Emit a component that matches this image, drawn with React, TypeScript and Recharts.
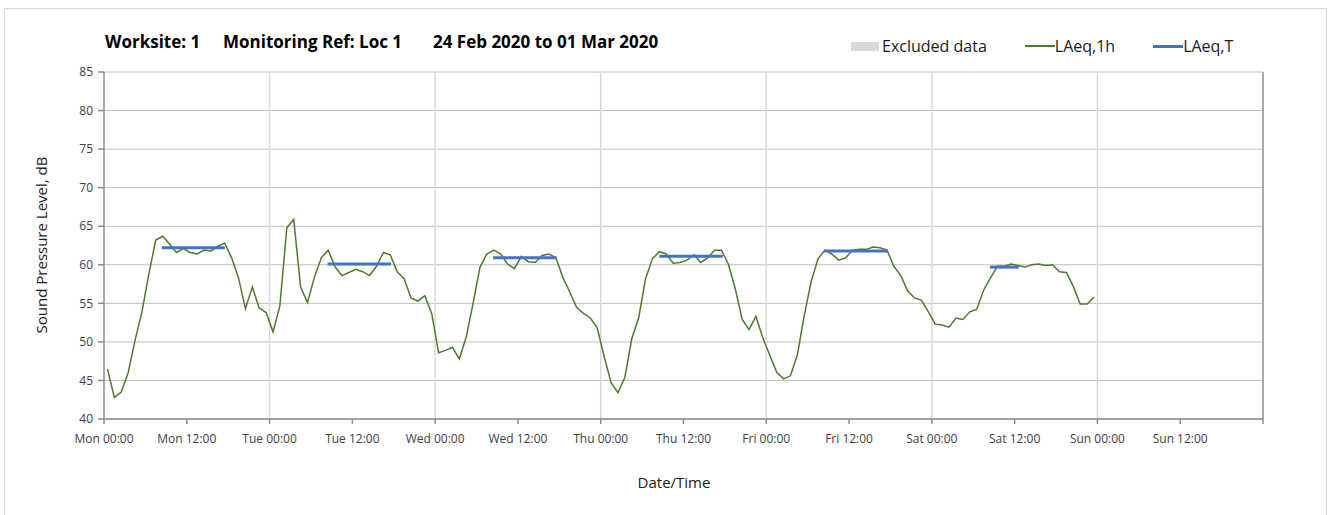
import { LineChart, Line, XAxis, YAxis, CartesianGrid, ReferenceLine } from "recharts";

const DAY_NAMES = ["Mon", "Tue", "Wed", "Thu", "Fri", "Sat", "Sun"];
const X_TICKS = [0, 12, 24, 36, 48, 60, 72, 84, 96, 108, 120, 132, 144, 156, 168];
const Y_TICKS = [40, 45, 50, 55, 60, 65, 70, 75, 80, 85];
const DAY_LINES = [24, 48, 72, 96, 120, 144];

// LAeq,1h in dB, one value per hour from Mon 00:00 (plotted at the middle of each hour)
const laeq1h = [
  46.5, 42.8, 43.5, 46.0, 50.2, 53.9, 58.8, 63.2, 63.7, 62.7, 61.6, 62.1,
  61.6, 61.4, 61.9, 61.8, 62.4, 62.8, 60.9, 58.3, 54.3, 57.1, 54.4, 53.8,
  51.3, 54.7, 64.8, 65.9, 57.1, 55.1, 58.4, 60.9, 61.9, 59.7, 58.6, 59.0,
  59.4, 59.1, 58.6, 59.8, 61.6, 61.3, 59.1, 58.2, 55.7, 55.3, 56.0, 53.7,
  48.6, 48.9, 49.3, 47.8, 50.6, 55.0, 59.7, 61.4, 61.9, 61.4, 60.1, 59.5,
  61.1, 60.4, 60.3, 61.2, 61.4, 60.9, 58.4, 56.5, 54.5, 53.7, 53.1, 51.8,
  48.1, 44.7, 43.4, 45.4, 50.4, 53.1, 58.2, 60.8, 61.7, 61.4, 60.2, 60.3,
  60.6, 61.3, 60.3, 60.9, 61.9, 61.9, 60.1, 56.9, 52.9, 51.6, 53.3, 50.5,
  48.3, 46.1, 45.2, 45.6, 48.3, 53.4, 57.8, 60.8, 61.9, 61.4, 60.6, 60.9,
  61.9, 62.0, 62.0, 62.3, 62.2, 61.9, 59.8, 58.6, 56.6, 55.7, 55.4, 53.9,
  52.3, 52.2, 51.9, 53.1, 52.9, 53.9, 54.2, 56.7, 58.3, 59.8, 59.8, 60.1,
  59.9, 59.7, 60.0, 60.1, 59.9, 60.0, 59.1, 59.0, 57.2, 54.9, 54.9, 55.8,
];

// LAeq,T daytime periods: start hour, end hour, level
const laeqTStart = [8.4, 32.4, 56.4, 80.5, 104.4, 128.4];
const laeqTEnd = [17.5, 41.6, 65.6, 89.7, 113.6, 132.6];
const laeqTValue = [62.2, 60.1, 60.9, 61.1, 61.8, 59.7];

const hourlyData = laeq1h.map((v, i) => ({ t: i + 0.5, v }));
const periodData = laeqTValue.map((v, i) => [
  { t: laeqTStart[i], v },
  { t: laeqTEnd[i], v },
]);

const formatTick = (t: number) => {
  const day = DAY_NAMES[Math.floor(t / 24)];
  if (!day) return "";
  return `${day} ${t % 24 === 0 ? "00:00" : "12:00"}`;
};

const FONT = "'Open Sans', sans-serif";
const tickStyle = { fontSize: 12, fill: "#404040", fontFamily: FONT };
const titleSpan = { position: "absolute" as const, top: 0, whiteSpace: "pre" as const };

export default function App() {
  return (
    <div style={{ position: "absolute", left: 0, top: 0, width: 1335, height: 515, background: "#fff", fontFamily: FONT, color: "#000" }}>
      <div style={{ position: "absolute", left: 4, top: 8, width: 1321, height: 520, border: "1px solid #d9d9d9" }} />

      <LineChart width={1335} height={515} data={hourlyData} margin={{ top: 72, right: 72, bottom: 66, left: 0 }}>
        <CartesianGrid vertical={false} stroke="#bfbfbf" />
        {DAY_LINES.map((d) => (
          <ReferenceLine key={d} x={d} stroke="#d9d9d9" strokeWidth={1.5} />
        ))}
        <ReferenceLine x={168} stroke="#8c8c8c" strokeWidth={1.5} />
        <XAxis
          dataKey="t"
          type="number"
          domain={[0, 168]}
          ticks={X_TICKS}
          tickFormatter={formatTick}
          interval={0}
          height={30}
          tickSize={5}
          tickMargin={10}
          stroke="#8c8c8c"
          strokeWidth={1.5}
          tick={tickStyle}
          allowDataOverflow
        />
        <YAxis
          type="number"
          domain={[40, 85]}
          ticks={Y_TICKS}
          interval={0}
          width={104}
          tickSize={6}
          tickMargin={5}
          stroke="#8c8c8c"
          strokeWidth={1.5}
          tick={tickStyle}
        />
        <Line
          dataKey="v"
          stroke="#4e7a2f"
          strokeWidth={1.5}
          dot={false}
          isAnimationActive={false}
        />
        {periodData.map((seg, i) => (
          <Line
            key={i}
            data={seg}
            dataKey="v"
            stroke="#4472c4"
            strokeWidth={3}
            dot={false}
            isAnimationActive={false}
          />
        ))}
      </LineChart>

      <div style={{ position: "absolute", left: 0, top: 30, fontSize: 17, fontWeight: 700 }}>
        <span style={{ ...titleSpan, left: 105 }}>Worksite: 1</span>
        <span style={{ ...titleSpan, left: 223 }}>Monitoring Ref: Loc 1</span>
        <span style={{ ...titleSpan, left: 433 }}>24 Feb 2020 to 01 Mar 2020</span>
      </div>

      <div style={{ position: "absolute", left: 851, top: 35, display: "flex", alignItems: "center", fontSize: 16, color: "#1a1a1a" }}>
        <span style={{ width: 28, height: 9, background: "#d9d9d9", display: "inline-block" }} />
        <span style={{ marginLeft: 3 }}>Excluded data</span>
        <span style={{ marginLeft: 38, width: 30, height: 1.5, background: "#4e7a2f", display: "inline-block" }} />
        <span>LAeq,1h</span>
        <span style={{ marginLeft: 38, width: 30, height: 3, background: "#4472c4", display: "inline-block" }} />
        <span>LAeq,T</span>
      </div>

      <div style={{ position: "absolute", left: 41, top: 245, transform: "translate(-50%, -50%) rotate(-90deg)", fontSize: 15, whiteSpace: "nowrap", color: "#1a1a1a" }}>
        Sound Pressure Level, dB
      </div>

      <div style={{ position: "absolute", left: 674, top: 482, transform: "translate(-50%, -50%)", fontSize: 15, color: "#1a1a1a" }}>
        Date/Time
      </div>
    </div>
  );
}
